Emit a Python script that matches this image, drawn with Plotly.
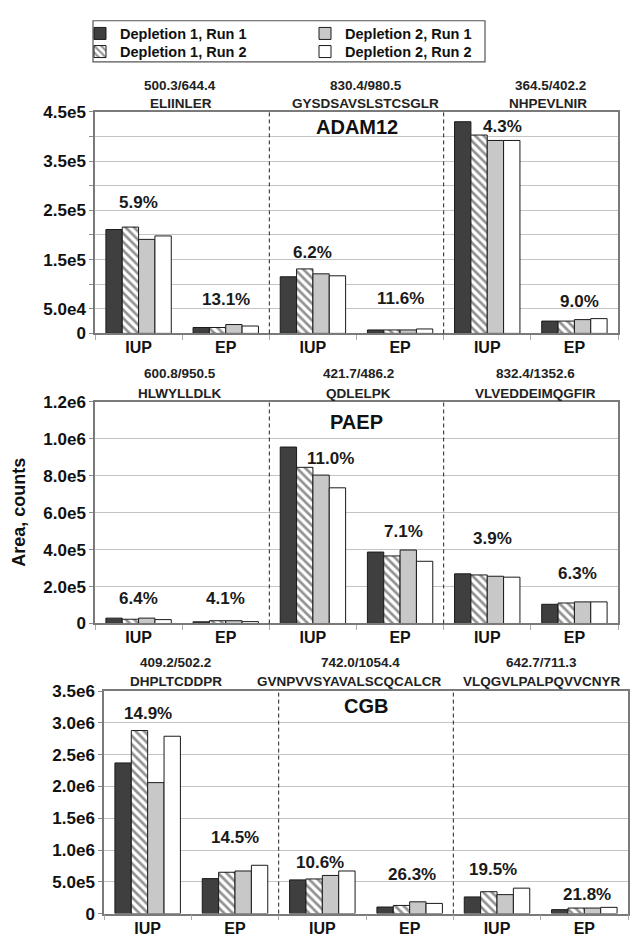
import plotly.graph_objects as go

# ---------------- data ----------------
categories = ["IUP", "EP", "IUP", "EP", "IUP", "EP"]
series_names = ["Depletion 1, Run 1", "Depletion 1, Run 2",
                "Depletion 2, Run 1", "Depletion 2, Run 2"]

adam12_d1r1 = [2.11e5, 1.2e4, 1.15e5, 7.0e3, 4.30e5, 2.5e4]
adam12_d1r2 = [2.16e5, 1.2e4, 1.31e5, 7.0e3, 4.03e5, 2.5e4]
adam12_d2r1 = [1.91e5, 1.8e4, 1.21e5, 7.0e3, 3.92e5, 2.8e4]
adam12_d2r2 = [1.98e5, 1.5e4, 1.17e5, 9.0e3, 3.92e5, 3.0e4]
adam12_cv = ["5.9%", "13.1%", "6.2%", "11.6%", "4.3%", "9.0%"]
adam12_cv_height = [2.65e5, 0.68e5, 1.65e5, 0.70e5, 4.2e5, 0.64e5]

paep_d1r1 = [2.9e4, 0.9e4, 9.56e5, 3.87e5, 2.69e5, 1.04e5]
paep_d1r2 = [2.3e4, 1.5e4, 8.46e5, 3.66e5, 2.63e5, 1.11e5]
paep_d2r1 = [2.9e4, 1.5e4, 8.04e5, 3.98e5, 2.56e5, 1.17e5]
paep_d2r2 = [2.1e4, 1.0e4, 7.35e5, 3.37e5, 2.51e5, 1.17e5]
paep_cv = ["6.4%", "4.1%", "11.0%", "7.1%", "3.9%", "6.3%"]
paep_cv_height = [1.36e5, 1.36e5, 8.96e5, 4.98e5, 4.58e5, 2.72e5]

cgb_d1r1 = [2.37e6, 5.5e5, 5.3e5, 1.03e5, 2.62e5, 0.62e5]
cgb_d1r2 = [2.88e6, 6.5e5, 5.45e5, 1.28e5, 3.44e5, 0.87e5]
cgb_d2r1 = [2.06e6, 6.7e5, 6.0e5, 1.85e5, 2.98e5, 0.87e5]
cgb_d2r2 = [2.79e6, 7.6e5, 6.7e5, 1.6e5, 4.0e5, 0.98e5]
cgb_cv = ["14.9%", "14.5%", "10.6%", "26.3%", "19.5%", "21.8%"]
cgb_cv_height = [3.14e6, 1.2e6, 8.1e5, 6.2e5, 7.0e5, 3.0e5]

proteins = ["ADAM12", "PAEP", "CGB"]
protein_label_height = [4.2e5, 1.094e6, 3.27e6]

adam12_mz = ["500.3/644.4", "830.4/980.5", "364.5/402.2"]
adam12_pep = ["ELIINLER", "GYSDSAVSLSTCSGLR", "NHPEVLNIR"]
paep_mz = ["600.8/950.5", "421.7/486.2", "832.4/1352.6"]
paep_pep = ["HLWYLLDLK", "QDLELPK", "VLVEDDEIMQGFIR"]
cgb_mz = ["409.2/502.2", "742.0/1054.4", "642.7/711.3"]
cgb_pep = ["DHPLTCDDPR", "GVNPVVSYAVALSCQCALCR", "VLQGVLPALPQVVCNYR"]

adam12_ticks = [0, 5e4, 1e5, 1.5e5, 2e5, 2.5e5, 3e5, 3.5e5, 4e5, 4.5e5]
adam12_ticktext = ["0", "5.0e4", "", "1.5e5", "", "2.5e5", "", "3.5e5", "", "4.5e5"]
paep_ticks = [0, 2e5, 4e5, 6e5, 8e5, 1e6, 1.2e6]
paep_ticktext = ["0", "2.0e5", "4.0e5", "6.0e5", "8.0e5", "1.0e6", "1.2e6"]
cgb_ticks = [0, 5e5, 1e6, 1.5e6, 2e6, 2.5e6, 3e6, 3.5e6]
cgb_ticktext = ["0", "5.0e5", "1.0e6", "1.5e6", "2.0e6", "2.5e6", "3.0e6", "3.5e6"]

# ---------------- styling ----------------
W, H = 638, 952
FONT = "Liberation Sans, Arial, sans-serif"
DARK = "#3f3f3f"
x_pos = list(range(len(categories)))


def PX(v):
    return v / W


def PY(v):
    return 1 - v / H


panels = [
    dict(series=[adam12_d1r1, adam12_d1r2, adam12_d2r1, adam12_d2r2],
         cv=adam12_cv, cvh=adam12_cv_height, cvdx=[0, 0, 0, 0, 0.18, 0.06],
         mz=adam12_mz, pep=adam12_pep, ticks=adam12_ticks, ticktext=adam12_ticktext,
         yr=[0, 4.5e5], px=(95, 618), py=(105, 331),
         mzx=[0.47, 2.61, 4.72], pepx=[0.49, 2.6, 4.7], hy=(78, 96)),
    dict(series=[paep_d1r1, paep_d1r2, paep_d2r1, paep_d2r2],
         cv=paep_cv, cvh=paep_cv_height, cvdx=[0, 0, 0.2, 0.04, 0.06, 0.04],
         mz=paep_mz, pep=paep_pep, ticks=paep_ticks, ticktext=paep_ticktext,
         yr=[0, 1.2e6], px=(95, 618), py=(401, 627),
         mzx=[0.47, 2.52, 4.55], pepx=[0.47, 2.52, 4.55], hy=(372, 392)),
    dict(series=[cgb_d1r1, cgb_d1r2, cgb_d2r1, cgb_d2r2],
         cv=cgb_cv, cvh=cgb_cv_height, cvdx=[0, 0, -0.03, 0.03, -0.05, 0.03],
         mz=cgb_mz, pep=cgb_pep, ticks=cgb_ticks, ticktext=cgb_ticktext,
         yr=[0, 3.5e6], px=(104, 628), py=(696, 923),
         mzx=[0.32, 2.44, 4.51], pepx=[0.33, 2.31, 4.52], hy=(667, 686)),
]

markers = [
    dict(color=DARK, line=dict(color="#1a1a1a", width=1)),
    dict(color="white", line=dict(color="#1a1a1a", width=1),
         pattern=dict(shape="\\", fgcolor="#262626", bgcolor="white", size=6, solidity=0.45)),
    dict(color="#c8c8c8", line=dict(color="#1a1a1a", width=1)),
    dict(color="white", line=dict(color="#1a1a1a", width=1)),
]
# one single-entry legend per series, laid out as 2 columns x 2 rows
legend_ids = ["legend", "legend3", "legend2", "legend4"]

fig = go.Figure()
annotations = []
shapes = []
layout = {}

for p_i, p in enumerate(panels):
    sfx = "" if p_i == 0 else str(p_i + 1)
    xa, ya = "x" + sfx, "y" + sfx
    for s_i, vals in enumerate(p["series"]):
        fig.add_trace(go.Bar(
            x=x_pos, y=vals, name=series_names[s_i], xaxis=xa, yaxis=ya,
            marker=markers[s_i], legendgroup=series_names[s_i],
            legend=legend_ids[s_i], showlegend=(p_i == 0), hoverinfo="skip"))
    x0p, x1p = p["px"]
    y0p, y1p = p["py"]
    layout["xaxis" + sfx] = dict(
        domain=[PX(x0p), PX(x1p)], anchor=ya, range=[-0.5, 5.5],
        tickmode="array", tickvals=x_pos, ticktext=categories,
        ticks="outside", ticklen=2, tickcolor="rgba(0,0,0,0)",
        ticklabelstandoff=-3,
        tickfont=dict(family=FONT, size=16, color="#111", weight="bold"),
        showgrid=False, zeroline=False, showline=True, mirror=True,
        linecolor="#7a7a7a", linewidth=1.5, fixedrange=True,
        minor=dict(tickmode="array", tickvals=[-0.5, 0.5, 1.5, 2.5, 3.5, 4.5, 5.5],
                   ticks="outside", ticklen=5, tickcolor="#aaaaaa", showgrid=False))
    layout["yaxis" + sfx] = dict(
        domain=[PY(y1p), PY(y0p)], anchor=xa, range=p["yr"],
        tickmode="array", tickvals=p["ticks"], ticktext=p["ticktext"],
        ticks="outside", ticklen=4, tickcolor="#8a8a8a",
        tickfont=dict(family=FONT, size=17, color="#111", weight="bold"),
        showgrid=True, gridcolor="#c4c4c4", gridwidth=1, zeroline=False,
        showline=True, mirror=True, linecolor="#7a7a7a", linewidth=1.5,
        fixedrange=True)
    for xs in (1.5, 3.5):
        shapes.append(dict(type="line", xref=xa, yref=ya + " domain", x0=xs, x1=xs,
                           y0=0, y1=1, line=dict(color="#222", width=1, dash="4px,3px")))
    for c_i, txt in enumerate(p["cv"]):
        annotations.append(dict(text=txt, xref=xa, yref=ya, x=x_pos[c_i] + p["cvdx"][c_i],
                                y=p["cvh"][c_i], showarrow=False, yanchor="middle",
                                font=dict(family=FONT, size=17, color="#1a1a1a", weight="bold")))
    annotations.append(dict(text=proteins[p_i], xref=xa, yref=ya, x=2.5,
                            y=protein_label_height[p_i], showarrow=False, yanchor="middle",
                            font=dict(family=FONT, size=20, color="#111", weight="bold")))
    for g in range(3):
        annotations.append(dict(text=p["mz"][g], xref=xa, yref="paper", x=p["mzx"][g],
                                y=PY(p["hy"][0]), showarrow=False, yanchor="middle",
                                font=dict(family=FONT, size=13.5, color="#222", weight="bold")))
        annotations.append(dict(text=p["pep"][g], xref=xa, yref="paper", x=p["pepx"][g],
                                y=PY(p["hy"][1]), showarrow=False, yanchor="middle",
                                font=dict(family=FONT, size=13.5, color="#222", weight="bold")))

annotations.append(dict(text="Area, counts", xref="paper", yref="paper", x=PX(19),
                        y=PY(514), textangle=-90, showarrow=False,
                        xanchor="center", yanchor="middle",
                        font=dict(family=FONT, size=18, color="#111", weight="bold")))

# legend frame
shapes.append(dict(type="rect", xref="paper", yref="paper", x0=PX(93), x1=PX(485),
                   y0=PY(54), y1=PY(12), line=dict(color="#555", width=1.2),
                   fillcolor="rgba(0,0,0,0)"))

leg_common = dict(font=dict(family=FONT, size=14.5, color="#111", weight="bold"),
                  bgcolor="rgba(0,0,0,0)", borderwidth=0, orientation="v",
                  xanchor="left", yanchor="middle", itemwidth=30)

fig.update_layout(
    width=W, height=H, margin=dict(l=0, r=0, t=0, b=0),
    paper_bgcolor="white", plot_bgcolor="white",
    barmode="group", bargap=0.25, bargroupgap=0,
    showlegend=True,
    legend=dict(x=PX(80), y=PY(25), **leg_common),
    legend2=dict(x=PX(305), y=PY(25), **leg_common),
    legend3=dict(x=PX(80), y=PY(43.5), **leg_common),
    legend4=dict(x=PX(305), y=PY(43.5), **leg_common),
    annotations=annotations, shapes=shapes,
    **layout)

fig.write_html("out.html", config={"displayModeBar": False},
               post_script="document.body.style.margin='0px';")
